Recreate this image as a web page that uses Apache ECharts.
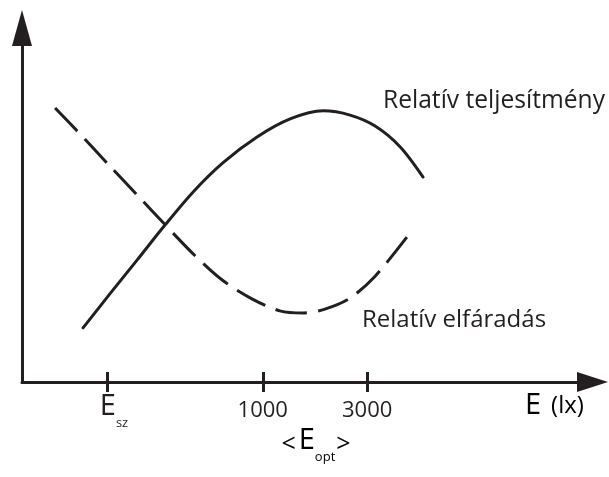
<!DOCTYPE html>
<html>
<head>
<meta charset="utf-8">
<script src="https://cdn.jsdelivr.net/npm/echarts@6/dist/echarts.min.js"></script>
<style>
  html, body { margin: 0; padding: 0; background: #fff; }
  #chart { width: 609px; height: 477px; }
</style>
</head>
<body>
<div id="chart"></div>
<script>
// schematic units: x 0..100 along the E axis, y 0..100 relative level
const teljesitmenyX = [10.7, 15.4, 20.2, 25.1, 30.0, 35.2, 41.2, 47.0, 52.8, 57.5, 61.9, 66.3, 70.3]
const teljesitmenyY = [15.3, 24.9, 34.5, 44.4, 53.7, 61.9, 69.2, 74.3, 76.6, 75.4, 72.3, 66.4, 57.9]
const faradasX = [5.8, 10.5, 15.4, 20.2, 25.1, 30.0, 35.1, 40.3, 45.2, 49.3, 53.1, 57.5, 61.9, 67.5]
const faradasY = [77.4, 69.5, 61.0, 52.8, 44.4, 36.2, 28.8, 23.5, 20.1, 19.5, 20.6, 23.7, 29.9, 41.0]
const tickValues = [14.9, 42.2, 60.5]
const tickLabels = ['E', '1000', '3000']
const tickSubs = ['sz', '', '']

const ink = '#231f20'
const font = '"Open Sans", sans-serif'

let myChart = echarts.init(document.getElementById('chart'))

function pairs (xs, ys) {
  return xs.map((x, i) => [x, ys[i]])
}

// E betű alsó indexszel: minden darab a sor tetejéhez igazítva
const subRich = {
  num: { fontSize: 22, fontFamily: font, color: ink, lineHeight: 30, verticalAlign: 'top', padding: [8, 0, 0, 0] },
  big: { fontSize: 29, fontFamily: font, color: ink, lineHeight: 30, verticalAlign: 'top' },
  sub: { fontSize: 13, fontFamily: font, color: ink, lineHeight: 13, verticalAlign: 'top', padding: [25, 0, 0, 0] },
  lt: { fontSize: 25, fontFamily: font, color: ink, lineHeight: 30, verticalAlign: 'top', padding: [6, 3, 0, 0] },
  gt: { fontSize: 25, fontFamily: font, color: ink, lineHeight: 30, verticalAlign: 'top', padding: [6, 0, 0, 1] }
}

myChart.setOption({
  animation: false,
  grid: { left: 22, right: 16.5, top: 28, bottom: 95 },
  xAxis: [
    {
      type: 'value',
      min: 0,
      max: 100,
      splitLine: { show: false },
      axisLine: {
        lineStyle: { color: ink, width: 3 },
        symbol: ['none', 'triangle'],
        symbolSize: [20, 31]
      },
      axisTick: {
        customValues: tickValues,
        length: 10,
        lineStyle: { color: ink, width: 3 }
      },
      axisLabel: {
        customValues: tickValues,
        margin: 10,
        color: ink,
        fontFamily: font,
        formatter (value) {
          let i = tickValues.indexOf(value)
          if (i < 0) return ''
          if (tickSubs[i]) {
            return '{pad|}{big|' + tickLabels[i] + '}{sub|' + tickSubs[i] + '}'
          }
          return '{num|' + tickLabels[i] + '}'
        },
        rich: Object.assign({ pad: { width: 14, lineHeight: 30, verticalAlign: 'top' } }, subRich)
      }
    },
    {
      // second copy only for the upper half of the crossing ticks
      type: 'value',
      min: 0,
      max: 100,
      position: 'bottom',
      splitLine: { show: false },
      axisLine: { show: false },
      axisLabel: { show: false },
      axisTick: {
        inside: true,
        customValues: tickValues,
        length: 10,
        lineStyle: { color: ink, width: 3 }
      }
    }
  ],
  yAxis: {
    type: 'value',
    min: 0,
    max: 100,
    splitLine: { show: false },
    axisTick: { show: false },
    axisLabel: { show: false },
    axisLine: {
      lineStyle: { color: ink, width: 3 },
      symbol: ['none', 'triangle'],
      symbolSize: [20, 36]
    }
  },
  series: [
    {
      name: 'Relatív teljesítmény',
      type: 'line',
      smooth: 0.3,
      showSymbol: false,
      data: pairs(teljesitmenyX, teljesitmenyY),
      lineStyle: { color: ink, width: 3, cap: 'round' }
    },
    {
      name: 'Relatív elfáradás',
      type: 'line',
      smooth: 0.3,
      showSymbol: false,
      data: pairs(faradasX, faradasY),
      lineStyle: { color: ink, width: 3, type: [32, 11] }
    }
  ],
  graphic: [
    {
      type: 'text',
      x: 383,
      y: 101,
      style: {
        text: 'Relatív teljesítmény',
        font: '24.6px ' + font,
        fill: ink,
        textAlign: 'left',
        textVerticalAlign: 'middle'
      }
    },
    {
      type: 'text',
      x: 362,
      y: 320,
      style: {
        text: 'Relatív elfáradás',
        font: '24px ' + font,
        fill: ink,
        textAlign: 'left',
        textVerticalAlign: 'middle'
      }
    },
    {
      type: 'text',
      x: 525,
      y: 406,
      style: {
        text: '{e|E}{p|(lx)}',
        textAlign: 'left',
        textVerticalAlign: 'middle',
        rich: {
          e: { fontSize: 29, fontFamily: font, color: ink },
          p: { fontSize: 24, fontFamily: font, color: ink, padding: [0, 0, 0, 10] }
        }
      }
    },
    {
      type: 'text',
      x: 316,
      y: 426,
      style: {
        text: '{lt|<}{big|E}{sub|opt}{gt|>}',
        textAlign: 'center',
        textVerticalAlign: 'top',
        rich: subRich
      }
    }
  ]
})
</script>
</body>
</html>
